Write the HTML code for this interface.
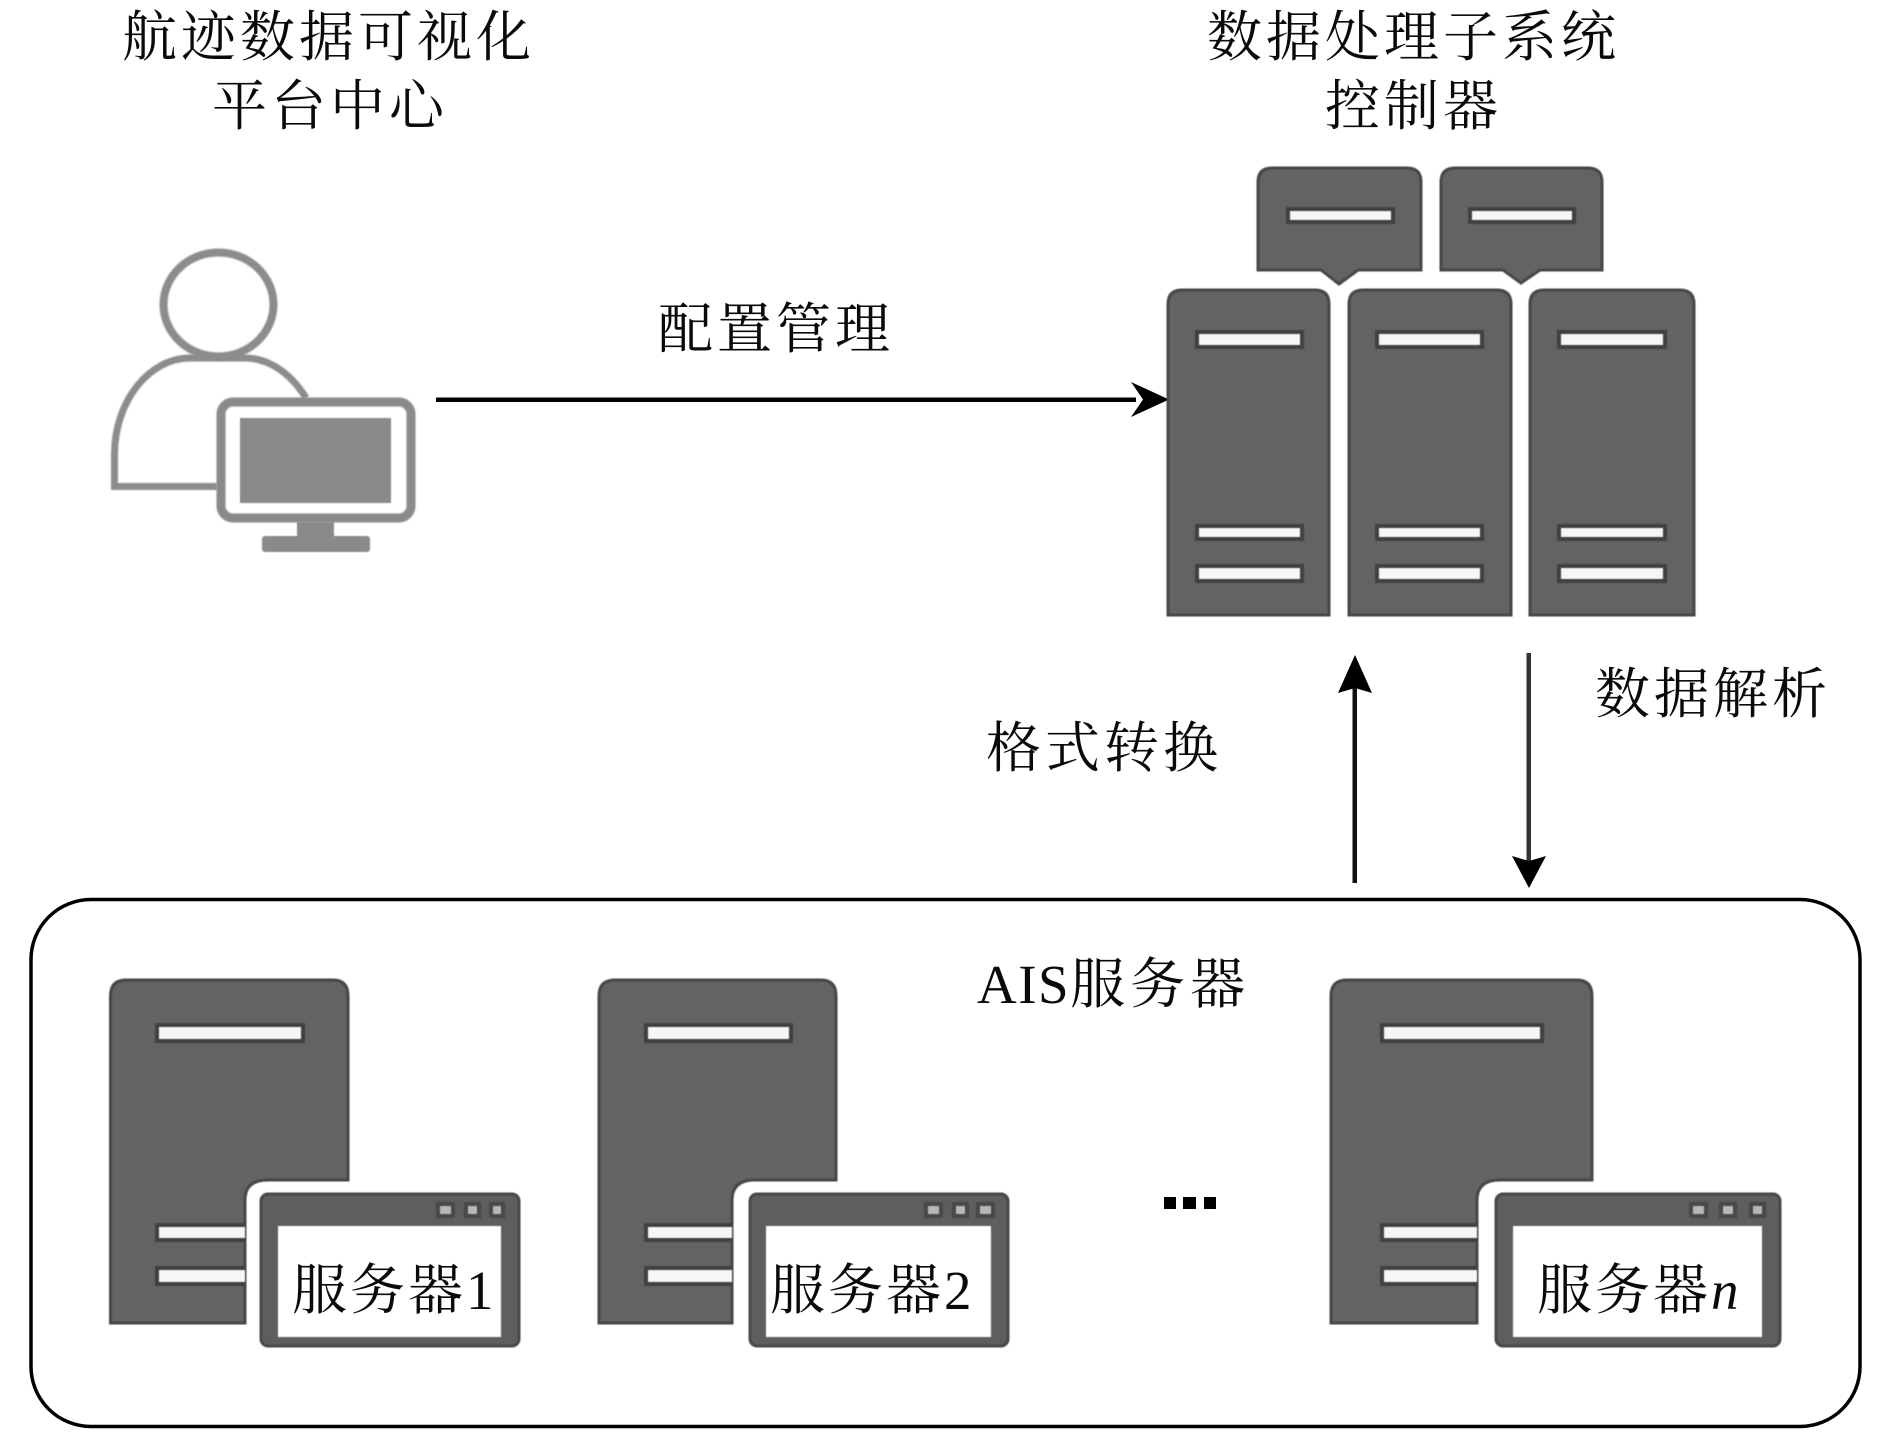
<!DOCTYPE html>
<html><head><meta charset="utf-8"><style>
html,body{margin:0;padding:0;background:#fff;width:1890px;height:1441px;overflow:hidden}
svg{display:block}
text{font-family:"Liberation Serif","Noto Serif CJK SC",serif;font-size:55px;fill:#0a0a0a}
.sv{fill:#636363;stroke:#474747;stroke-width:3;filter:blur(.6px)}
.bar{fill:#f6f6f6;stroke:#404040;stroke-width:4;filter:blur(.6px)}
.win{fill:#5e5e5e;stroke:#484848;stroke-width:3;filter:blur(.6px)}
.in{fill:#fff;filter:blur(.4px)}
.sq{fill:#b8b8b8;stroke:#484848;stroke-width:4;filter:blur(.5px)}
.g{fill:#8a8a8a;filter:blur(.6px)}
.blur{filter:blur(.7px)}
</style></head><body>
<svg width="1890" height="1441" viewBox="0 0 1890 1441" xmlns="http://www.w3.org/2000/svg">
<rect width="1890" height="1441" fill="#fff"/>

<!-- titles -->
<text x="122" y="56" letter-spacing="4">航迹数据可视化</text>
<text x="212" y="125" letter-spacing="4">平台中心</text>
<text x="1207" y="56" letter-spacing="4">数据处理子系统</text>
<text x="1325" y="125" letter-spacing="4">控制器</text>
<text x="658" y="348" letter-spacing="4">配置管理</text>
<text x="986" y="767" letter-spacing="4">格式转换</text>
<text x="1595" y="713" letter-spacing="4">数据解析</text>

<!-- person -->
<ellipse class="blur" cx="218.500" cy="304.500" rx="55" ry="52" fill="#fff" stroke="#8c8c8c" stroke-width="8"/>
<path class="blur" d="M217 486.500H114.500V455C114.500 400 150 358 190 358H245C270 358 292 375 306 398" fill="none" stroke="#8c8c8c" stroke-width="7"/>
<rect class="blur" x="221" y="402" width="190" height="116" rx="12" fill="#fff" stroke="#8a8a8a" stroke-width="9"/>
<rect x="240" y="418" width="151" height="85" class="g"/>
<rect x="297" y="522" width="37" height="18" class="g"/>
<rect x="262" y="536" width="108" height="16" rx="3" class="g"/>

<!-- arrows -->
<rect x="436" y="397.500" width="700" height="4.500" fill="#000"/>
<polygon points="1169,399.500 1131,417 1143,399.500 1131,382" fill="#000"/>
<rect x="1352.500" y="685" width="4.500" height="198" fill="#111"/>
<polygon points="1355,655 1372,693 1355,688 1338,693" fill="#000"/>
<rect x="1526.500" y="653" width="4.500" height="210" fill="#333"/>
<polygon points="1529,888 1512,856 1529,861 1546,856" fill="#000"/>

<!-- top callouts -->
<path class="sv" d="M1258 270V182Q1258 168 1272 168H1407Q1421 168 1421 182V270H1358L1339 284L1321 270Z"/>
<rect class="bar" x="1288" y="209" width="105" height="13"/>
<path class="sv" d="M1441 270V182Q1441 168 1455 168H1588Q1602 168 1602 182V270H1540L1521 283L1503 270Z"/>
<rect class="bar" x="1470" y="209" width="104" height="13"/>

<!-- three servers -->
<path class="sv" d="M1168 615V304Q1168 290 1182 290H1315Q1329 290 1329 304V615Z"/>
<rect class="bar" x="1197" y="332" width="105" height="15"/>
<rect class="bar" x="1197" y="526" width="105" height="13"/>
<rect class="bar" x="1197" y="566" width="105" height="15"/>
<path class="sv" d="M1349 615V304Q1349 290 1363 290H1497Q1511 290 1511 304V615Z"/>
<rect class="bar" x="1377" y="332" width="105" height="15"/>
<rect class="bar" x="1377" y="526" width="105" height="13"/>
<rect class="bar" x="1377" y="566" width="105" height="15"/>
<path class="sv" d="M1530 615V304Q1530 290 1544 290H1680Q1694 290 1694 304V615Z"/>
<rect class="bar" x="1559" y="332" width="106" height="15"/>
<rect class="bar" x="1559" y="526" width="106" height="13"/>
<rect class="bar" x="1559" y="566" width="106" height="15"/>

<!-- outer box -->
<rect x="31" y="899.500" width="1829" height="527" rx="60" ry="60" fill="none" stroke="#000" stroke-width="3.500"/>
<text x="977" y="1003" letter-spacing="1.500"><tspan>AIS</tspan><tspan letter-spacing="5">服务器</tspan></text>

<!-- server 1 -->
<path class="sv" d="M110.500 1323V996Q110.500 980 126 980H333Q348 980 348 996V1180H268Q245 1180 245 1200V1323Z"/>
<rect class="bar" x="157" y="1025" width="146" height="16"/>
<path class="bar" d="M245 1225H157V1240H245"/>
<path class="bar" d="M245 1268H157V1284H245"/>
<rect class="win" x="261" y="1194" width="258" height="152" rx="7"/>
<rect class="in" x="278" y="1226" width="223" height="111"/>
<rect class="sq" x="438" y="1204" width="15" height="12"/><rect class="sq" x="466" y="1204" width="13" height="12"/><rect class="sq" x="491" y="1204" width="12" height="12"/>
<text x="292" y="1309" letter-spacing="3">服务器1</text>

<!-- server 2 -->
<path class="sv" d="M599 1323V996Q599 980 615 980H821Q836 980 836 996V1180H755Q732 1180 732 1200V1323Z"/>
<rect class="bar" x="646" y="1025" width="145" height="16"/>
<path class="bar" d="M732 1225H646V1240H732"/>
<path class="bar" d="M732 1268H646V1284H732"/>
<rect class="win" x="750" y="1194" width="258" height="152" rx="7"/>
<rect class="in" x="766" y="1226" width="225" height="111"/>
<rect class="sq" x="926" y="1204" width="15" height="12"/><rect class="sq" x="954" y="1204" width="13" height="12"/><rect class="sq" x="978" y="1204" width="15" height="12"/>
<text x="770" y="1309" letter-spacing="3">服务器2</text>

<!-- dots -->
<rect x="1164" y="1197" width="12" height="12" fill="#000"/>
<rect x="1183" y="1197" width="13" height="12" fill="#000"/>
<rect x="1204" y="1197" width="12" height="12" fill="#000"/>

<!-- server n -->
<path class="sv" d="M1331 1323V996Q1331 980 1347 980H1577Q1592 980 1592 996V1180H1500Q1477 1180 1477 1200V1323Z"/>
<rect class="bar" x="1382" y="1025" width="160" height="16"/>
<path class="bar" d="M1477 1225H1382V1240H1477"/>
<path class="bar" d="M1477 1268H1382V1284H1477"/>
<rect class="win" x="1496" y="1194" width="284" height="152" rx="7"/>
<rect class="in" x="1513" y="1226" width="249" height="111"/>
<rect class="sq" x="1691" y="1204" width="15" height="12"/><rect class="sq" x="1721" y="1204" width="14" height="12"/><rect class="sq" x="1751" y="1204" width="13" height="12"/>
<text x="1537" y="1309" letter-spacing="3">服务器<tspan font-style="italic" letter-spacing="0">n</tspan></text>
</svg>
</body></html>
